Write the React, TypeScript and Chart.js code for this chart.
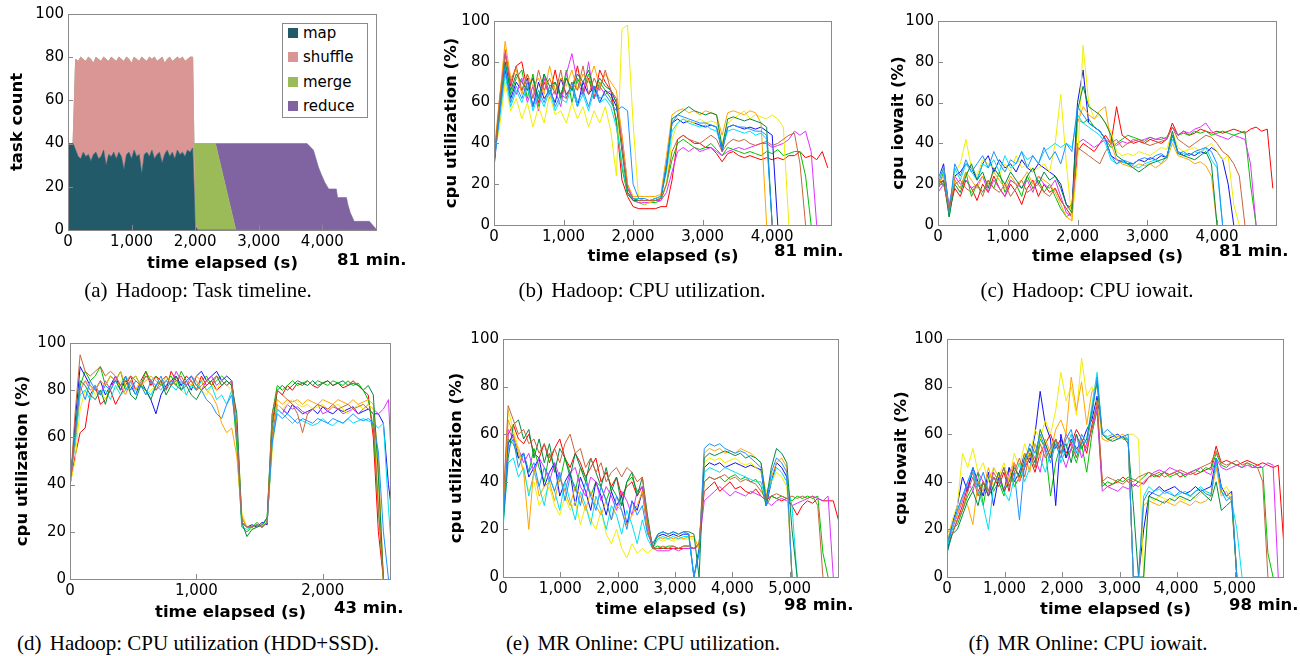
import React, { useEffect, useRef } from 'react';
import { Chart, registerables } from 'chart.js';

Chart.register(...registerables);

const FONT = "'DejaVu Sans', 'Noto Sans', sans-serif";
const SERIF = "'Liberation Serif', 'DejaVu Serif', serif";

// ---------------- tick labels ----------------
const X_TICKS_HADOOP = [0, 1000, 2000, 3000, 4000];
const X_TICKS_SSD = [0, 1000, 2000];
const X_TICKS_MR = [0, 1000, 2000, 3000, 4000, 5000];
const Y_TICKS = [0, 20, 40, 60, 80, 100];

// ---------------- (a) Hadoop task timeline ----------------
const A_T = [
  0, 40, 80, 120, 160, 200, 240, 280, 320, 360,
  400, 440, 480, 520, 560, 600, 640, 680, 720, 760,
  800, 840, 880, 920, 960, 1000, 1040, 1080, 1120, 1160,
  1200, 1240, 1280, 1320, 1360, 1400, 1440, 1480, 1520, 1560,
  1600, 1640, 1680, 1720, 1760, 1800, 1840, 1880, 1920, 1960,
  1980, 2000, 2040, 2320, 2400, 2480, 2560, 2640, 3700, 3760,
  3860, 3940, 3980, 4040, 4100, 4220, 4240, 4380, 4400, 4440,
  4500, 4740, 4800, 4860,
];
const A_MAP = [
  40, 40, 40, 37, 34, 33, 36, 34, 35, 32,
  35, 36, 33, 34, 37, 30, 35, 34, 36, 33,
  36, 34, 28, 35, 36, 33, 37, 34, 35, 26,
  35, 36, 34, 37, 33, 35, 36, 31, 35, 37,
  34, 36, 33, 37, 35, 36, 34, 37, 36, 38,
  22, 2, 0, 0, 0, 0, 0, 0, 0, 0,
  0, 0, 0, 0, 0, 0, 0, 0, 0, 0,
  0, 0, 0, 0,
];
const A_SHUFFLE = [
  0, 0, 0, 42, 44, 47, 43, 44, 45, 47,
  42, 44, 46, 44, 43, 49, 43, 46, 43, 45,
  44, 45, 50, 45, 43, 44, 43, 45, 43, 54,
  44, 42, 46, 42, 47, 43, 43, 49, 42, 42,
  46, 42, 46, 43, 44, 44, 44, 42, 44, 42,
  18, 2, 0, 0, 0, 0, 0, 0, 0, 0,
  0, 0, 0, 0, 0, 0, 0, 0, 0, 0,
  0, 0, 0, 0,
];
const A_MERGE = [
  0, 0, 0, 0, 0, 0, 0, 0, 0, 0,
  0, 0, 0, 0, 0, 0, 0, 0, 0, 0,
  0, 0, 0, 0, 0, 0, 0, 0, 0, 0,
  0, 0, 0, 0, 0, 0, 0, 0, 0, 0,
  0, 0, 0, 0, 0, 0, 0, 0, 0, 0,
  0, 36, 40, 40, 30, 20, 10, 0, 0, 0,
  0, 0, 0, 0, 0, 0, 0, 0, 0, 0,
  0, 0, 0, 0,
];
const A_REDUCE = [
  0, 0, 0, 0, 0, 0, 0, 0, 0, 0,
  0, 0, 0, 0, 0, 0, 0, 0, 0, 0,
  0, 0, 0, 0, 0, 0, 0, 0, 0, 0,
  0, 0, 0, 0, 0, 0, 0, 0, 0, 0,
  0, 0, 0, 0, 0, 0, 0, 0, 0, 0,
  0, 0, 0, 0, 10, 20, 30, 40, 40, 40,
  37, 29, 26, 22, 19, 19, 15, 15, 12, 8,
  4, 4, 2, 0,
];
const A_LABELS = ['map', 'shuffle', 'merge', 'reduce'];

// ---------------- (b),(c) Hadoop time grid ----------------
const HADOOP_T = [
  0, 80, 160, 240, 320, 400, 480, 560, 640, 720,
  800, 880, 960, 1040, 1120, 1200, 1280, 1360, 1440, 1520,
  1600, 1680, 1760, 1840, 1920, 2000, 2080, 2160, 2240, 2320,
  2400, 2480, 2560, 2640, 2720, 2800, 2880, 2960, 3040, 3120,
  3200, 3280, 3360, 3440, 3520, 3600, 3680, 3760, 3840, 3920,
  4000, 4080, 4160, 4240, 4320, 4400, 4480, 4560, 4640, 4720,
  4800,
];

// (b) CPU utilization
const B_RED = [30,62,84,68,78,80,66,72,60,70, 64,76,62,72,66,78,64,72,62,76, 70,66,50,22,14,9,8,8,8,8, 9,9,22,42,44,42,40,40,38,38, 35,31,35,36,34,33,34,33,32,33, 32,33,32,34,34,36,33,34,32,36, 28];
const B_GREEN = [32,58,80,64,72,76,62,74,58,74, 64,70,62,76,60,72,66,74,62,70, 66,62,52,28,15,12,11,10,11,11, 12,20,32,40,42,40,38,37,38,40, 37,34,38,37,36,35,36,35,34,36, 35,37,34,35,36,36,24,0];
const B_BLUE = [28,56,76,62,70,66,72,58,70,62, 66,60,72,64,68,58,70,64,68,60, 66,64,58,40,18,13,12,12,12,13, 14,30,50,52,50,51,50,49,48,49, 48,36,48,49,48,47,48,47,48,46, 44,0];
const B_MAGENTA = [30,60,86,70,64,72,60,68,56,72, 62,66,58,74,84,70,64,80,62,68, 64,66,60,44,20,12,11,11,11,12, 12,16,26,36,38,36,38,36,37,38, 36,34,36,37,38,37,38,39,40,40, 38,39,40,42,46,44,46,36,0];
const B_CYAN = [32,52,74,58,66,60,68,56,64,58, 66,56,62,60,68,58,64,56,66,60, 62,58,48,30,16,13,13,12,12,13, 14,26,46,50,52,50,49,48,49,47, 46,38,46,47,46,45,46,44,45,42, 0];
const B_YELLOW = [34,48,70,56,62,52,60,48,58,50, 64,54,56,50,60,52,58,48,56,50, 58,46,24,96,98,50,12,10,11,12, 14,20,42,50,52,51,50,52,50,51, 50,40,50,52,54,56,52,54,53,52, 54,52,48,0];
const B_ORANGE = [36,62,90,72,76,64,74,68,72,64, 78,66,72,68,76,66,74,70,78,68, 74,70,66,44,20,14,14,14,14,14, 15,34,54,56,57,55,56,54,56,55, 54,44,55,56,55,54,56,55,50,0];
const B_DARKGREEN = [30,58,80,66,74,70,66,72,62,74, 68,70,64,72,66,74,70,76,66,72, 68,66,60,36,16,12,12,12,12,12, 13,28,52,54,56,58,56,55,54,55, 54,38,52,53,52,51,52,51,50,48, 0];
const B_BROWN = [32,60,84,70,78,66,74,62,76,66, 72,64,76,62,70,66,78,64,72,66, 76,66,62,38,18,13,12,12,12,12, 13,20,36,42,44,42,41,40,42,44, 42,36,40,42,41,42,40,39,40,41, 39,40,42,44,45,30,0];
const B_DODGER = [30,54,78,60,68,62,70,58,66,60, 68,58,64,62,70,60,66,58,68,62, 64,60,56,58,56,20,13,13,12,12, 13,30,50,54,53,52,51,50,50,49, 48,37,48,49,48,48,47,46,46,44, 0];

// (c) CPU iowait
const C_RED = [20,22,6,18,14,22,18,12,20,16, 24,18,14,20,16,10,18,22,14,20, 16,18,12,8,4,36,40,38,36,40, 44,40,58,44,42,40,41,40,42,41, 40,42,50,44,46,44,45,47,46,45, 46,45,46,47,46,45,47,48,46,47, 18];
const C_GREEN = [18,26,4,22,18,26,14,20,16,22, 18,26,16,22,20,14,24,18,22,16, 20,14,8,4,6,52,50,52,48,46, 42,38,40,42,44,43,42,41,43,42, 42,43,48,44,45,44,46,45,46,44, 45,46,45,44,45,46,20,0];
const C_BLUE = [22,30,8,24,26,30,28,22,30,34, 26,32,28,30,26,32,28,26,30,28, 26,24,20,10,8,60,76,50,48,46, 42,34,32,31,30,30,32,31,33,32, 34,33,44,36,34,35,34,36,35,38, 36,32,20,0];
const C_MAGENTA = [16,20,10,24,20,22,18,20,24,16, 22,18,14,22,20,18,22,16,24,20, 18,22,14,6,4,40,42,40,38,40, 42,40,39,41,40,42,41,42,43,42, 43,42,48,44,46,45,47,48,50,46, 44,43,42,44,43,42,30,0];
const C_CYAN = [24,26,6,28,22,30,26,22,30,28, 32,26,34,28,30,36,32,34,30,36, 38,40,38,40,38,54,50,48,46,44, 40,32,30,31,30,29,28,30,31,32, 30,34,42,36,35,34,36,35,38,32, 28,0];
const C_YELLOW = [22,28,6,26,30,42,28,24,32,30, 28,24,30,26,34,28,30,26,28,30, 26,40,64,30,2,30,88,60,52,54, 50,46,36,34,35,34,36,35,34,36, 38,37,46,38,36,37,38,36,38,40, 36,32,34,10,0];
const C_ORANGE = [20,24,6,22,18,26,22,18,24,20, 26,22,18,24,20,22,26,20,24,22, 20,16,10,4,2,50,58,54,52,56, 58,40,32,30,29,28,30,29,30,28, 30,32,40,34,33,32,30,31,29,24, 0];
const C_DARKGREEN = [18,22,4,20,16,24,30,22,26,18, 28,24,20,26,22,18,24,28,20,26, 22,24,18,10,6,56,68,58,56,54, 50,44,34,32,30,28,26,28,30,31, 32,33,46,35,34,33,32,34,36,30, 0];
const C_BROWN = [22,20,8,20,22,18,16,20,14,22, 18,16,20,14,18,22,16,18,20,16, 14,18,12,8,10,38,36,34,32,30, 36,40,42,38,40,41,42,40,39,40, 41,42,48,42,40,38,40,42,44,43, 40,36,34,30,24,0];
const C_DODGER = [20,28,6,30,24,32,26,30,34,28, 36,30,26,32,30,36,28,34,30,38, 32,36,30,40,36,58,54,50,48,46, 42,34,30,32,31,30,32,33,32,34, 35,33,44,35,36,34,36,37,38,36, 30,0];

// ---------------- (d) Hadoop HDD+SSD ----------------
const SSD_T = [
  0, 40, 80, 120, 160, 200, 240, 280, 320, 360,
  400, 440, 480, 520, 560, 600, 640, 680, 720, 760,
  800, 840, 880, 920, 960, 1000, 1040, 1080, 1120, 1160,
  1200, 1240, 1280, 1320, 1360, 1400, 1440, 1480, 1520, 1560,
  1600, 1640, 1680, 1720, 1760, 1800, 1840, 1880, 1920, 1960,
  2000, 2040, 2080, 2120, 2160, 2200, 2240, 2280, 2320, 2360,
  2400, 2440, 2480, 2520, 2560,
];
const D_RED = [40,52,62,64,78,82,74,76,80,74, 78,82,86,80,84,88,82,86,84,80, 88,84,82,86,84,80,86,82,84,80, 82,84,82,62,26,22,22,23,22,24, 62,80,78,82,80,83,82,84,82,81, 83,84,82,83,81,82,84,82,80,78, 60,20,0];
const D_GREEN = [42,60,82,88,84,86,90,82,86,84, 88,80,84,86,82,88,84,86,82,84, 86,82,88,84,86,82,84,86,82,84, 86,84,82,56,22,20,22,24,22,26, 70,82,80,82,84,82,83,84,82,84, 83,82,84,83,82,84,82,83,80,76, 64,30,0];
const D_BLUE = [38,66,90,86,82,80,84,78,82,86, 80,84,82,78,84,80,76,70,78,82, 84,86,82,84,80,86,88,84,86,88, 84,86,84,64,24,22,23,22,24,23, 60,74,72,70,74,72,70,71,72,70, 73,71,70,72,71,72,73,70,71,72, 70,70,66,40,22];
const D_MAGENTA = [40,58,80,84,80,82,78,84,80,86, 82,78,84,80,82,86,84,80,82,84, 82,88,84,82,86,84,80,84,86,82, 84,82,84,66,24,22,22,23,22,24, 60,72,70,74,72,73,71,70,72,74, 70,71,73,72,70,71,72,70,72,74, 72,70,72,76,30];
const D_CYAN = [44,56,78,80,76,82,78,80,76,82, 78,80,84,78,82,80,78,82,80,84, 82,80,84,78,82,80,84,80,82,76, 78,74,80,62,22,21,22,23,22,24, 58,72,70,68,66,68,67,66,65,66, 68,66,65,67,66,68,66,67,68,67, 66,64,66,30,0];
const D_YELLOW = [40,50,72,80,82,78,80,76,82,80, 84,78,82,80,84,78,80,82,84,80, 82,84,80,78,82,84,80,78,82,80, 84,82,80,66,28,22,21,22,23,24, 54,74,72,74,76,74,73,74,72,73, 74,72,73,74,72,70,72,74,72,74, 72,40,0];
const D_ORANGE = [42,58,80,84,82,80,84,82,86,84, 88,82,84,86,82,84,86,84,82,86, 84,82,80,84,82,86,84,80,78,74, 66,62,64,52,26,22,22,23,22,24, 62,76,74,76,75,76,74,76,75,74, 76,75,74,76,75,74,76,74,75,76, 74,50,0];
const D_DARKGREEN = [40,62,84,82,78,76,80,74,82,84, 80,86,78,76,82,80,76,82,84,78, 82,86,80,82,78,76,80,82,84,86, 82,84,82,70,24,18,21,22,23,26, 66,80,82,80,82,84,83,82,84,82, 83,84,82,83,84,82,83,82,80,82, 78,44,0];
const D_BROWN = [38,70,95,88,86,88,90,86,88,86, 82,84,86,84,82,86,84,80,84,86, 82,84,86,82,84,80,82,84,82,86, 84,82,84,62,24,22,22,23,22,24, 70,80,78,76,74,70,62,70,72,74, 73,72,74,72,73,74,72,73,74,72, 70,30,0];
const D_DODGER = [42,60,82,76,84,80,78,82,80,84, 82,86,80,84,82,78,84,82,86,80, 84,82,80,84,86,82,80,76,74,70, 68,74,78,62,24,22,22,23,22,24, 58,70,68,70,68,66,68,67,66,68, 67,66,68,67,66,68,70,68,67,68, 66,54,20,0];

// ---------------- (e),(f) MR Online time grid ----------------
const MR_T = [
  0, 90, 180, 270, 360, 450, 540, 630, 720, 810,
  900, 990, 1080, 1170, 1260, 1350, 1440, 1530, 1620, 1710,
  1800, 1890, 1980, 2070, 2160, 2250, 2340, 2430, 2520, 2610,
  2700, 2790, 2880, 2970, 3060, 3150, 3240, 3330, 3420, 3510,
  3600, 3690, 3780, 3870, 3960, 4050, 4140, 4230, 4320, 4410,
  4500, 4590, 4680, 4770, 4860, 4950, 5040, 5130, 5220, 5310,
  5400, 5490, 5580, 5670, 5760, 5850,
];

// (e) CPU utilization
const E_RED = [24,60,64,58,56,60,52,50,56,48, 54,58,50,46,52,48,42,46,50,40, 44,38,42,34,38,40,34,38,20,12, 12,12,12,12,12,12,12,12,14,36, 38,40,36,38,40,37,38,36,35,37, 34,32,34,33,32,33,30,26,30,32, 31,33,32,32,32,24];
const E_GREEN = [22,58,56,50,52,44,54,46,40,52, 46,40,50,44,36,46,42,34,40,38, 32,38,34,30,40,42,36,38,24,12, 13,12,13,13,12,13,13,12,14,40, 42,41,42,40,42,43,41,42,40,41, 38,30,34,33,34,33,32,34,33,34, 33,34,10,0];
const E_BLUE = [30,56,60,50,52,42,46,50,38,44, 48,34,40,44,30,42,36,28,40,34, 26,36,30,34,22,32,28,36,20,14, 17,18,17,18,17,18,18,0,12,46, 48,47,48,46,47,48,47,46,47,46, 45,30,40,48,46,42,0];
const E_MAGENTA = [26,62,58,54,48,52,44,50,46,40, 48,42,36,44,46,38,34,42,40,32, 38,34,28,36,32,26,36,38,22,12, 11,11,11,12,11,12,12,12,13,32, 34,36,38,36,34,36,35,34,36,35, 34,32,30,32,33,32,30,31,32,33, 34,33,32,34,0];
const E_CYAN = [20,48,50,42,46,34,44,38,30,42, 36,28,40,32,24,36,30,22,34,28, 20,30,26,18,28,22,14,24,16,12, 16,17,16,17,16,17,17,0,10,44, 46,45,44,46,45,44,43,42,41,40, 40,32,40,46,44,40,30,0];
const E_YELLOW = [28,70,62,54,44,36,40,30,34,38, 30,26,34,28,32,22,30,24,20,28, 18,14,20,12,8,14,10,12,10,12, 16,15,16,15,16,16,16,16,12,48, 50,49,50,48,49,50,48,47,48,46, 44,36,40,44,42,38,0];
const E_ORANGE = [26,66,60,52,44,20,46,34,38,40, 32,42,36,30,38,34,28,36,30,26, 32,24,30,28,22,26,30,36,20,14, 17,16,17,16,17,16,17,17,12,52, 54,53,54,52,53,52,54,53,52,50, 48,34,42,48,50,46,0];
const E_DARKGREEN = [22,50,64,66,58,62,50,58,48,56, 44,54,50,42,52,46,40,50,44,38, 46,36,42,30,40,44,34,42,26,12, 18,19,18,19,18,19,19,18,0,50, 52,51,52,53,52,51,52,50,51,50, 48,32,46,54,52,48,20,0];
const E_BROWN = [30,72,66,60,62,56,58,52,56,50, 54,48,56,60,52,54,46,50,44,48, 40,44,46,42,46,44,40,42,24,12, 12,13,12,13,12,13,13,12,14,40, 42,41,42,43,41,42,40,41,40,39, 36,33,34,35,34,33,34,33,34,33, 34,30,0];
const E_DODGER = [24,54,58,46,52,44,48,38,46,42, 36,44,32,42,38,30,40,34,28,38, 32,24,34,28,20,32,26,30,18,14, 18,19,18,19,18,19,18,0,10,54, 56,55,56,54,53,52,53,52,50,48, 46,30,44,50,48,44,0];

// (f) CPU iowait
const F_RED = [12,18,24,30,38,44,36,40,34,42, 38,44,36,48,40,46,50,44,52,56, 60,54,58,52,56,62,58,52,64,72, 40,38,39,40,42,40,38,40,39,42, 43,42,44,43,44,42,43,44,43,44, 45,46,55,48,49,48,47,48,49,48, 47,48,47,46,47,16];
const F_GREEN = [14,20,22,28,34,38,44,30,42,36, 40,34,46,38,42,48,52,46,58,54, 34,48,56,50,54,48,56,44,60,70, 38,40,39,41,40,42,41,40,42,44, 42,43,44,42,43,44,42,44,45,44, 46,45,52,47,46,48,47,46,48,47, 46,46,10,0];
const F_BLUE = [10,22,30,42,36,46,40,34,44,30, 42,36,46,40,44,52,48,60,78,64, 58,30,60,50,58,54,56,62,66,76, 60,58,59,60,58,58,0,0,20,34, 36,38,36,37,38,36,35,36,38,36, 37,38,50,38,34,36,0];
const F_MAGENTA = [16,20,26,32,40,36,44,40,34,46, 42,36,44,48,40,46,54,50,44,56, 50,58,52,46,54,60,50,56,62,70, 36,38,37,36,38,37,39,38,40,42, 44,45,44,46,45,44,43,44,45,46, 44,43,50,46,45,46,47,46,47,46, 47,46,48,47,0];
const F_CYAN = [12,20,28,34,40,44,36,30,20,38, 44,36,32,42,48,40,46,56,50,44, 52,58,48,54,60,50,56,58,72,86, 60,59,60,58,59,58,0,0,34,38, 36,37,35,36,34,35,36,34,36,38, 36,35,48,36,34,32,20,0];
const F_YELLOW = [14,24,30,52,46,54,44,48,40,46, 42,48,40,52,46,56,50,62,58,66, 60,70,86,74,80,68,92,76,80,72, 60,58,60,59,58,60,60,58,0,34, 32,34,33,32,34,33,32,34,33,35, 36,34,48,36,38,34,0];
const F_ORANGE = [18,22,26,34,30,22,40,36,46,38, 44,36,42,48,40,52,44,56,50,58, 52,62,66,60,84,70,82,64,78,80, 58,57,58,59,60,58,0,0,30,32, 31,30,32,31,30,32,31,30,32,31, 32,34,46,34,36,32,0];
const F_DARKGREEN = [10,18,20,26,32,36,30,40,34,38, 44,36,40,46,42,50,54,48,62,56, 50,58,52,56,48,60,54,58,70,82, 60,58,57,58,59,56,30,0,0,34, 33,32,31,33,32,34,33,32,34,36, 34,32,40,28,30,32,0];
const F_BROWN = [16,18,24,28,36,42,34,40,36,44, 40,46,38,44,50,42,52,46,56,50, 54,58,52,60,56,50,58,54,62,74, 40,42,41,40,39,41,40,42,43,44, 43,44,42,43,44,45,44,43,44,46, 47,48,53,48,47,48,49,47,48,46, 46,40,0];
const F_DODGER = [14,22,28,34,40,46,38,44,36,42, 40,46,38,44,24,48,56,52,60,54, 48,56,50,58,62,52,60,56,68,84, 60,62,60,58,59,60,0,0,32,36, 35,34,36,35,34,36,35,34,36,37, 35,34,50,36,32,34,0];

// ---------------- styles ----------------
const LINE_COLORS: Record<string, string> = {
  red: '#ff0000', green: '#00c000', blue: '#1010f0', magenta: '#e030ff', cyan: '#00e0f0',
  yellow: '#f0ee00', orange: '#ffa500', darkgreen: '#008a40', brown: '#c8643c', dodger: '#1e90ff',
};
const AREA_COLORS = ['#235a69', '#d99694', '#9bbb59', '#8064a2'];

type Series = [string, number[]];
const B_SERIES: Series[] = [['brown', B_BROWN], ['dodger', B_DODGER], ['darkgreen', B_DARKGREEN], ['orange', B_ORANGE], ['cyan', B_CYAN], ['yellow', B_YELLOW], ['magenta', B_MAGENTA], ['blue', B_BLUE], ['green', B_GREEN], ['red', B_RED]];
const C_SERIES: Series[] = [['brown', C_BROWN], ['dodger', C_DODGER], ['darkgreen', C_DARKGREEN], ['orange', C_ORANGE], ['cyan', C_CYAN], ['yellow', C_YELLOW], ['magenta', C_MAGENTA], ['blue', C_BLUE], ['green', C_GREEN], ['red', C_RED]];
const D_SERIES: Series[] = [['brown', D_BROWN], ['dodger', D_DODGER], ['darkgreen', D_DARKGREEN], ['orange', D_ORANGE], ['cyan', D_CYAN], ['yellow', D_YELLOW], ['magenta', D_MAGENTA], ['blue', D_BLUE], ['green', D_GREEN], ['red', D_RED]];
const E_SERIES: Series[] = [['brown', E_BROWN], ['dodger', E_DODGER], ['darkgreen', E_DARKGREEN], ['orange', E_ORANGE], ['cyan', E_CYAN], ['yellow', E_YELLOW], ['magenta', E_MAGENTA], ['blue', E_BLUE], ['green', E_GREEN], ['red', E_RED]];
const F_SERIES: Series[] = [['brown', F_BROWN], ['dodger', F_DODGER], ['darkgreen', F_DARKGREEN], ['orange', F_ORANGE], ['cyan', F_CYAN], ['yellow', F_YELLOW], ['magenta', F_MAGENTA], ['blue', F_BLUE], ['green', F_GREEN], ['red', F_RED]];

function points(t: number[], v: number[]) {
  return v.map((y, i) => ({ x: t[i], y }));
}

const framePlugin = {
  id: 'frame',
  afterDatasetsDraw(chart: any) {
    const { ctx, chartArea } = chart;
    const { left, right, top, bottom } = chartArea;
    const xs = chart.scales.x;
    const ys = chart.scales.y;
    ctx.save();
    ctx.strokeStyle = '#8a8a8a';
    ctx.lineWidth = 1;
    ctx.beginPath();
    for (const t of xs.ticks) {
      const px = Math.round(xs.getPixelForValue(t.value)) + 0.5;
      if (px > left + 2 && px < right - 2) { ctx.moveTo(px, bottom); ctx.lineTo(px, bottom - 5); }
    }
    for (const t of ys.ticks) {
      const py = Math.round(ys.getPixelForValue(t.value)) + 0.5;
      if (py > top + 2 && py < bottom - 2) { ctx.moveTo(left, py); ctx.lineTo(left + 5, py); }
    }
    ctx.stroke();
    ctx.strokeRect(Math.round(left) + 0.5, Math.round(top) + 0.5, Math.round(right - left) - 1, Math.round(bottom - top));
    ctx.restore();
  },
};

interface PanelSpec {
  id: string;
  x: number; y: number; w: number; h: number;
  yAxisW: number; xAxisH: number; padTop: number; padRight: number;
  yTitlePad: number; xTitlePad: number;
  xMax: number; xTicks: number[]; yTitle: string;
  kind: 'area' | 'lines';
  t: number[];
  series?: Series[];
}

const PANELS: PanelSpec[] = [
  { id: 'a', x: 0, y: 0, w: 430, h: 280, yAxisW: 68, xAxisH: 50, padTop: 14, padRight: 53, yTitlePad: 8, xTitlePad: 6, xMax: 4860, xTicks: X_TICKS_HADOOP, yTitle: 'task count', kind: 'area', t: A_T },
  { id: 'b', x: 430, y: 0, w: 430, h: 280, yAxisW: 64, xAxisH: 55, padTop: 21, padRight: 28, yTitlePad: 12, xTitlePad: 13, xMax: 4860, xTicks: X_TICKS_HADOOP, yTitle: 'cpu utilization (%)', kind: 'lines', t: HADOOP_T, series: B_SERIES },
  { id: 'c', x: 860, y: 0, w: 440, h: 280, yAxisW: 78, xAxisH: 55, padTop: 21, padRight: 23, yTitlePad: 29, xTitlePad: 13, xMax: 4860, xTicks: X_TICKS_HADOOP, yTitle: 'cpu iowait (%)', kind: 'lines', t: HADOOP_T, series: C_SERIES },
  { id: 'd', x: 0, y: 310, w: 430, h: 320, yAxisW: 70, xAxisH: 51, padTop: 33, padRight: 39, yTitlePad: 13, xTitlePad: 7, xMax: 2540, xTicks: X_TICKS_SSD, yTitle: 'cpu utilization (%)', kind: 'lines', t: SSD_T, series: D_SERIES },
  { id: 'e', x: 430, y: 310, w: 430, h: 320, yAxisW: 73, xAxisH: 53, padTop: 29, padRight: 21, yTitlePad: 17, xTitlePad: 10, xMax: 5860, xTicks: X_TICKS_MR, yTitle: 'cpu utilization (%)', kind: 'lines', t: MR_T, series: E_SERIES },
  { id: 'f', x: 860, y: 310, w: 440, h: 320, yAxisW: 87, xAxisH: 53, padTop: 29, padRight: 16, yTitlePad: 32, xTitlePad: 10, xMax: 5860, xTicks: X_TICKS_MR, yTitle: 'cpu iowait (%)', kind: 'lines', t: MR_T, series: F_SERIES },
];

function buildConfig(p: PanelSpec): any {
  let datasets: any[];
  if (p.kind === 'area') {
    const vals = [A_MAP, A_SHUFFLE, A_MERGE, A_REDUCE];
    datasets = vals.map((v, i) => ({
      label: A_LABELS[i],
      data: points(p.t, v),
      backgroundColor: AREA_COLORS[i],
      borderColor: AREA_COLORS[i],
      borderWidth: 0.6,
      fill: i === 0 ? 'origin' : '-1',
      pointRadius: 0,
      tension: 0,
    }));
  } else {
    datasets = (p.series || []).map(([c, v]) => ({
      label: c,
      data: points(p.t, v),
      borderColor: LINE_COLORS[c],
      backgroundColor: LINE_COLORS[c],
      borderWidth: 1,
      pointRadius: 0,
      fill: false,
      tension: 0,
    }));
  }
  const tickFont = { family: FONT, size: 15 };
  const titleFont = { family: FONT, size: 16.5, weight: 'bold' as const };
  return {
    type: 'line',
    data: { datasets },
    plugins: [framePlugin],
    options: {
      animation: false,
      responsive: false,
      maintainAspectRatio: false,
      events: [],
      layout: { padding: { top: p.padTop, right: p.padRight, left: 0, bottom: 0 } },
      plugins: { legend: { display: false }, tooltip: { enabled: false } },
      scales: {
        x: {
          type: 'linear',
          min: 0,
          max: p.xMax,
          grid: { display: false, drawTicks: false },
          border: { display: false },
          ticks: {
            autoSkip: false, maxRotation: 0, minRotation: 0,
            color: '#000', font: tickFont, padding: 3,
            callback: (v: any) => Number(v).toLocaleString('en-US'),
          },
          afterBuildTicks: (s: any) => { s.ticks = p.xTicks.map((v) => ({ value: v })); },
          title: { display: true, text: 'time elapsed (s)', color: '#000', font: titleFont, padding: { top: 0, bottom: p.xTitlePad } },
          afterFit: (s: any) => { s.height = p.xAxisH; },
        },
        y: {
          min: 0,
          max: 100,
          stacked: p.kind === 'area',
          grid: { display: false, drawTicks: false },
          border: { display: false },
          ticks: { autoSkip: false, color: '#000', font: tickFont, padding: 4 },
          afterBuildTicks: (s: any) => { s.ticks = Y_TICKS.map((v) => ({ value: v })); },
          title: { display: true, text: p.yTitle, color: '#000', font: titleFont, padding: { top: p.yTitlePad, bottom: 0 } },
          afterFit: (s: any) => { s.width = p.yAxisW; },
        },
      },
    },
  };
}

function Panel({ p }: { p: PanelSpec }) {
  const ref = useRef<HTMLCanvasElement | null>(null);
  useEffect(() => {
    if (!ref.current) return;
    const chart = new Chart(ref.current, buildConfig(p));
    return () => chart.destroy();
  }, [p]);
  return (
    <canvas
      ref={ref}
      width={p.w}
      height={p.h}
      style={{ position: 'absolute', left: p.x, top: p.y, width: p.w, height: p.h }}
    />
  );
}

const DURATIONS = [
  { text: '81 min.', x: 337, y: 260 },
  { text: '81 min.', x: 774, y: 251 },
  { text: '81 min.', x: 1219, y: 251 },
  { text: '43 min.', x: 334, y: 608 },
  { text: '98 min.', x: 784, y: 605 },
  { text: '98 min.', x: 1229, y: 605 },
];

const CAPTIONS = [
  { tag: '(a)', text: 'Hadoop: Task timeline.', cx: 198, cy: 290 },
  { tag: '(b)', text: 'Hadoop: CPU utilization.', cx: 642, cy: 290 },
  { tag: '(c)', text: 'Hadoop: CPU iowait.', cx: 1087, cy: 290 },
  { tag: '(d)', text: 'Hadoop: CPU utilization (HDD+SSD).', cx: 198, cy: 643 },
  { tag: '(e)', text: 'MR Online: CPU utilization.', cx: 643, cy: 643 },
  { tag: '(f)', text: 'MR Online: CPU iowait.', cx: 1088, cy: 643 },
];

export default function App() {
  const legendRows = [33, 57, 82, 106];
  return (
    <div style={{ position: 'absolute', left: 0, top: 0, width: 1300, height: 656, background: '#fff', overflow: 'hidden' }}>
      {PANELS.map((p) => <Panel key={p.id} p={p} />)}

      <div style={{ position: 'absolute', left: 282, top: 23, width: 84, height: 93, border: '1px solid #8a8a8a', background: '#fff' }} />
      {A_LABELS.map((l, i) => (
        <React.Fragment key={l}>
          <div style={{ position: 'absolute', left: 288, top: legendRows[i] - 5, width: 10, height: 10, background: AREA_COLORS[i] }} />
          <div style={{ position: 'absolute', left: 303, top: legendRows[i] - 10, height: 20, lineHeight: '20px', fontFamily: FONT, fontSize: 15, color: '#000', whiteSpace: 'nowrap' }}>{l}</div>
        </React.Fragment>
      ))}

      {DURATIONS.map((d, i) => (
        <div key={i} style={{ position: 'absolute', left: d.x, top: d.y - 10, height: 20, lineHeight: '20px', fontFamily: FONT, fontSize: 16.5, fontWeight: 'bold', color: '#000', whiteSpace: 'nowrap' }}>{d.text}</div>
      ))}

      {CAPTIONS.map((c, i) => (
        <div key={i} style={{ position: 'absolute', left: c.cx - 250, width: 500, top: c.cy - 12, height: 24, lineHeight: '24px', textAlign: 'center', fontFamily: SERIF, fontSize: 21, color: '#000', whiteSpace: 'nowrap' }}>
          <span style={{ marginRight: 3 }}>{c.tag}</span> {c.text}
        </div>
      ))}
    </div>
  );
}
